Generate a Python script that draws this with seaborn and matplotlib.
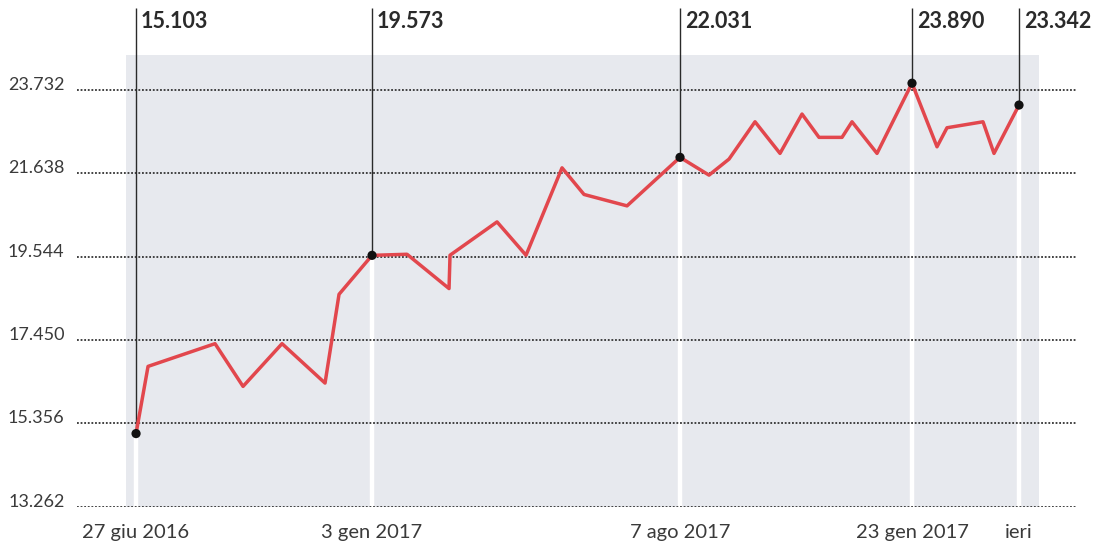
import matplotlib
matplotlib.use("Agg")
import matplotlib.pyplot as plt
import pandas as pd
import seaborn as sns

# Weekly readings (time index in weeks from the first reading) and values
periodo = [0.0, 1.2, 7.9, 10.7, 14.6, 18.9, 20.3, 23.6, 27.1, 31.3, 31.4,
           36.1, 39.0, 42.6, 44.8, 49.1, 54.4, 57.3, 59.3, 61.9, 64.4, 66.6,
           68.3, 70.6, 71.6, 74.1, 77.6, 80.1, 81.1, 84.7, 85.8, 88.3]
valore = [15.103, 16.788, 17.358, 16.286, 17.358, 16.369, 18.596, 19.573,
          19.600, 18.740, 19.576, 20.412, 19.576, 21.768, 21.100, 20.814,
          22.031, 21.585, 21.987, 22.923, 22.130, 23.117, 22.532, 22.532,
          22.923, 22.130, 23.890, 22.296, 22.773, 22.923, 22.130, 23.342]

# Highlighted readings and their date labels
evidenza_idx = [0, 7, 16, 26, 31]
evidenza_date = ["27 giu 2016", "3 gen 2017", "7 ago 2017", "23 gen 2017", "ieri"]
evidenza_etichette = ["15.103", "19.573", "22.031", "23.890", "23.342"]

# Y axis reference levels
y_ticks = [13.262, 15.356, 17.450, 19.544, 21.638, 23.732]
y_labels = ["13.262", "15.356", "17.450", "19.544", "21.638", "23.732"]

df = pd.DataFrame({"periodo": periodo, "valore": valore})
hl = df.iloc[evidenza_idx].copy()
hl["data"] = evidenza_date
hl["etichetta"] = evidenza_etichette

sns.set_theme(style="white")
plt.rcParams["font.family"] = ["Lato", "DejaVu Sans"]

RED = "#e2474d"
BG = "#e7e9ee"
INK = "#2a2a2a"

fig = plt.figure(figsize=(11.07, 5.51), dpi=100)
ax = fig.add_axes([0.0696, 0.0799, 0.9033, 0.8203])

ymin, ymax = 13.262, 24.598
xmin, xmax = -5.9, 94.1
ax.set_xlim(xmin, xmax)
ax.set_ylim(ymin, ymax)

# shaded plotting band
ax.axvspan(-1.0, 90.3, color=BG, lw=0, zorder=0)

# white separators below highlighted points, leader lines above them
line_top = ymin + 1.104 * (ymax - ymin)
text_base = ymin + 1.0597 * (ymax - ymin)
for _, r in hl.iterrows():
    ax.vlines(r["periodo"], ymin, r["valore"], color="white", lw=3.2, zorder=0.3)
    ax.vlines(r["periodo"], r["valore"], line_top, color=INK, lw=1.0,
              zorder=2, clip_on=False)
    ax.text(r["periodo"] + 0.5, text_base, r["etichetta"], ha="left",
            va="baseline", fontsize=15.5, fontweight="bold", color=INK,
            clip_on=False)

# dotted horizontal reference lines
for y in y_ticks:
    ax.axhline(y, color="#333333", lw=1.3, ls=(0, (1, 1)), zorder=1)

sns.lineplot(data=df, x="periodo", y="valore", color=RED, lw=2.5,
             zorder=3, ax=ax)
sns.scatterplot(data=hl, x="periodo", y="valore", color="#111111", s=44,
                edgecolor="none", zorder=4, ax=ax)

ax.set_yticks(y_ticks)
ax.set_yticklabels(y_labels, fontsize=13, color="#3a3a3a")
for t in ax.get_yticklabels():
    t.set_verticalalignment("baseline")
ax.set_xticks(hl["periodo"].tolist())
ax.set_xticklabels(hl["data"].tolist(), fontsize=14.5, color="#3a3a3a")
ax.tick_params(axis="y", length=0, pad=9)
ax.tick_params(axis="x", length=0, pad=12)
ax.set_xlabel("")
ax.set_ylabel("")
for s in ax.spines.values():
    s.set_visible(False)
ax.grid(False)

fig.savefig("out.png", dpi=100, facecolor="white")
